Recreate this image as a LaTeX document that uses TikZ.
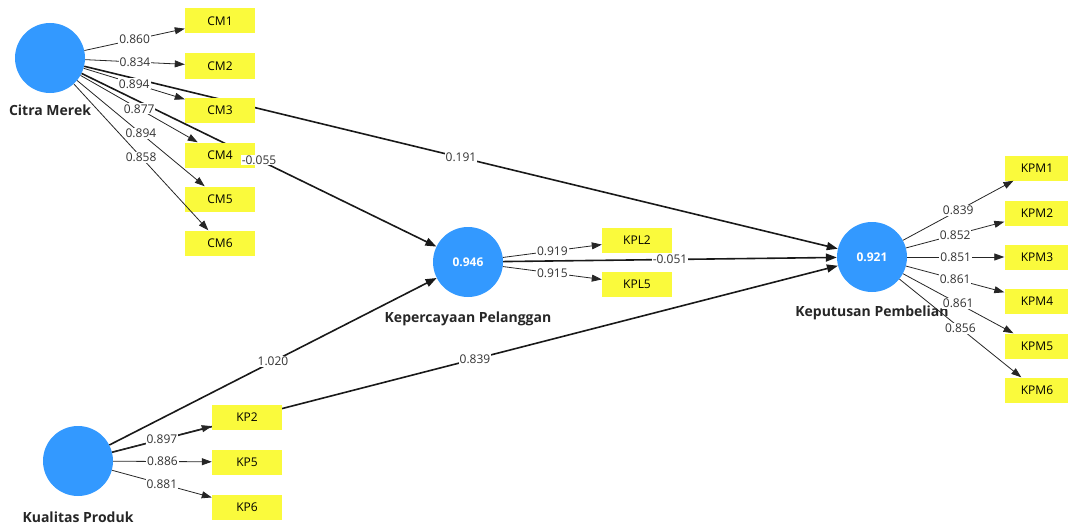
\documentclass[tikz,border=0pt]{standalone}
\usepackage{fontspec}
\setmainfont{Open Sans}
\usetikzlibrary{arrows.meta,positioning}
\definecolor{lvblue}{RGB}{51,153,255}
\definecolor{mvyellow}{RGB}{250,250,60}
\begin{document}
\begin{tikzpicture}[x=1pt,y=-1pt,
    lv/.style={circle,fill=lvblue,minimum size=70pt,inner sep=0pt,text=white,font=\fontsize{12}{14}\selectfont\bfseries},
    lvname/.style={font=\fontsize{14}{16}\selectfont\bfseries,text=black!85},
    mv/.style={rectangle,fill=mvyellow,minimum width=70pt,minimum height=25pt,inner sep=0pt,font=\fontsize{12}{14}\selectfont},
    kpm/.style={mv,minimum width=65pt},
    coef/.style={fill=white,inner sep=1pt,text=black!80,font=\fontsize{12}{14}\selectfont},
    pathline/.style={-{Triangle[length=11pt,width=8pt]},line width=1.6pt,black!90},
    loadline/.style={-{Triangle[length=10pt,width=7pt]},line width=0.8pt,black!85}
  ]
  \useasboundingbox (0,0) rectangle (1068,527);
  % Latent variables.
  \node[lv] (citra) at (50,58) {};
  \node[lv] (percaya) at (468,262) {0.946};
  \node[lv] (putusan) at (872,257) {0.921};
  \node[lv] (kualitas) at (78,461) {};
  \node[lvname,below=8pt of citra] (citraname) {Citra Merek};
  \node[lvname,below=11pt of percaya] (percayaname) {Kepercayaan Pelanggan};
  \node[lvname,below=10pt of putusan] (putusanname) {Keputusan Pembelian};
  \node[lvname,below=12pt of kualitas] (kualitasname) {Kualitas Produk};
  % Inner model, drawn under the indicators.
  \draw[pathline] (citra) -- (putusan);
  \draw[pathline] (citra) -- (percaya);
  \draw[pathline] (percaya) -- (putusan);
  \draw[pathline] (kualitas) -- (percaya);
  \draw[pathline] (kualitas) -- (putusan);
  % Indicators.
  \node[mv] (cm1) at (220,21) {CM1};
  \node[mv] (cm2) at (220,66) {CM2};
  \node[mv] (cm3) at (220,110) {CM3};
  \node[mv] (cm4) at (220,155) {CM4};
  \node[mv] (cm5) at (220,199) {CM5};
  \node[mv] (cm6) at (220,243) {CM6};
  \node[mv] (kpl2) at (637,240) {KPL2};
  \node[mv] (kpl5) at (637,284) {KPL5};
  \node[kpm] (kpm1) at (1037,168) {KPM1};
  \node[kpm] (kpm2) at (1037,213) {KPM2};
  \node[kpm] (kpm3) at (1037,257) {KPM3};
  \node[kpm] (kpm4) at (1037,301) {KPM4};
  \node[kpm] (kpm5) at (1037,346) {KPM5};
  \node[kpm] (kpm6) at (1037,390) {KPM6};
  \node[mv] (kp2) at (247,417) {KP2};
  \node[mv] (kp5) at (247,462) {KP5};
  \node[mv] (kp6) at (247,507) {KP6};
  % Outer loadings.
  \draw[loadline] (citra) -- node[coef] {0.860} (cm1);
  \draw[loadline] (citra) -- node[coef] {0.834} (cm2);
  \draw[loadline] (citra) -- node[coef] {0.894} (cm3);
  \draw[loadline] (citra) -- node[coef] {0.877} (cm4);
  \draw[loadline] (citra) -- node[coef] {0.894} (cm5);
  \draw[loadline] (citra) -- node[coef] {0.858} (cm6);
  \draw[loadline] (percaya) -- node[coef] {0.919} (kpl2);
  \draw[loadline] (percaya) -- node[coef] {0.915} (kpl5);
  \draw[loadline] (putusan) -- node[coef] {0.839} (kpm1);
  \draw[loadline] (putusan) -- node[coef] {0.852} (kpm2);
  \draw[loadline] (putusan) -- node[coef] {0.851} (kpm3);
  \draw[loadline] (putusan) -- node[coef] {0.861} (kpm4);
  \draw[loadline] (putusan) -- node[coef] {0.861} (kpm5);
  \draw[loadline] (putusan) -- node[coef] {0.856} (kpm6);
  \draw[loadline] (kualitas) -- node[coef] {0.897} (kp2);
  \draw[loadline] (kualitas) -- node[coef] {0.886} (kp5);
  \draw[loadline] (kualitas) -- node[coef] {0.881} (kp6);
  % Path coefficients.
  \path (citra) -- node[coef] {0.191} (putusan);
  \path (citra) -- node[coef] {-0.055} (percaya);
  \path (percaya) -- node[coef] {-0.051} (putusan);
  \path (kualitas) -- node[coef] {1.020} (percaya);
  \path (kualitas) -- node[coef] {0.839} (putusan);
\end{tikzpicture}
\end{document}
